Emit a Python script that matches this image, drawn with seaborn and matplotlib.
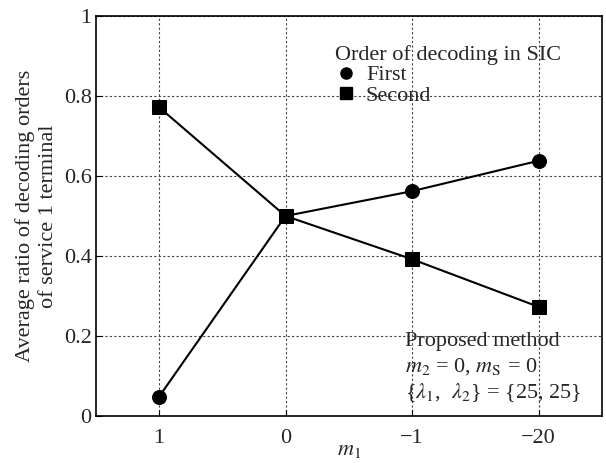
import matplotlib
matplotlib.use("Agg")
import matplotlib.pyplot as plt
import seaborn as sns
import pandas as pd
from matplotlib.lines import Line2D

categories = ["1", "0", "\u22121", "\u221220"]
first_vals = [0.048, 0.50, 0.562, 0.638]
second_vals = [0.772, 0.50, 0.392, 0.273]

sns.set_style("ticks")
plt.rcParams['font.family'] = ['Liberation Serif', 'DejaVu Serif']
plt.rcParams['mathtext.fontset'] = 'stix'

pos = list(range(len(categories)))
df = pd.DataFrame({
    "pos": pos + pos,
    "val": first_vals + second_vals,
    "order": ["First"] * 4 + ["Second"] * 4,
})

fig = plt.figure(figsize=(6.06, 4.63), dpi=100)
ax = fig.add_axes([0.158, 0.1015, 0.835, 0.864])

sns.lineplot(data=df, x="pos", y="val", style="order",
             markers={"First": "o", "Second": "s"}, dashes=False,
             color="black", markersize=10, linewidth=1.5,
             markeredgecolor="black", ax=ax, legend=False, zorder=3)

ax.set_xlim(-0.5, 3.5)
ax.set_ylim(0, 1)
ax.set_xticks(pos)
ax.set_xticklabels(categories)
ax.set_yticks([0, 0.2, 0.4, 0.6, 0.8, 1.0])
ax.set_yticklabels(["0", "0.2", "0.4", "0.6", "0.8", "1"])
ax.tick_params(direction="in", labelsize=16, length=4, color="black")
ax.tick_params(axis="x", pad=9)
ax.tick_params(axis="y", pad=3)
ax.grid(True, linestyle=(0, (2, 2)), color="#444444", linewidth=0.8)
for s in ax.spines.values():
    s.set_color("black")
    s.set_linewidth(1.2)

ax.set_xlabel("$m_1$", fontsize=16)
ax.xaxis.set_label_coords(0.5, -0.085)
ax.xaxis.label.set_va("center")
ax.set_ylabel("Average ratio of decoding orders\nof service 1 terminal",
              fontsize=16, linespacing=1.3)
ax.yaxis.set_label_coords(-0.117, 0.5)
ax.yaxis.label.set_va("center")

handles = [
    Line2D([], [], marker="o", color="black", linestyle="none", markersize=8),
    Line2D([], [], marker="s", color="black", linestyle="none", markersize=8),
]
leg = ax.legend(handles, ["First", "Second"], title="Order of decoding in SIC",
                frameon=False, fontsize=16, title_fontsize=16,
                loc="upper left", bbox_to_anchor=(0.455, 0.95),
                handlelength=1.0, handletextpad=0.4, labelspacing=0.0,
                borderaxespad=0.0)
leg._legend_box.align = "left"

ax.text(0.612, 0.21, "Proposed method\n$m_2$ = 0, $m_{\\mathrm{S}}$ = 0\n"
        "{$\\lambda_1$,  $\\lambda_2$} = {25, 25}",
        transform=ax.transAxes, fontsize=16, va="top", ha="left",
        linespacing=1.3)

fig.savefig("out.png", dpi=100)
